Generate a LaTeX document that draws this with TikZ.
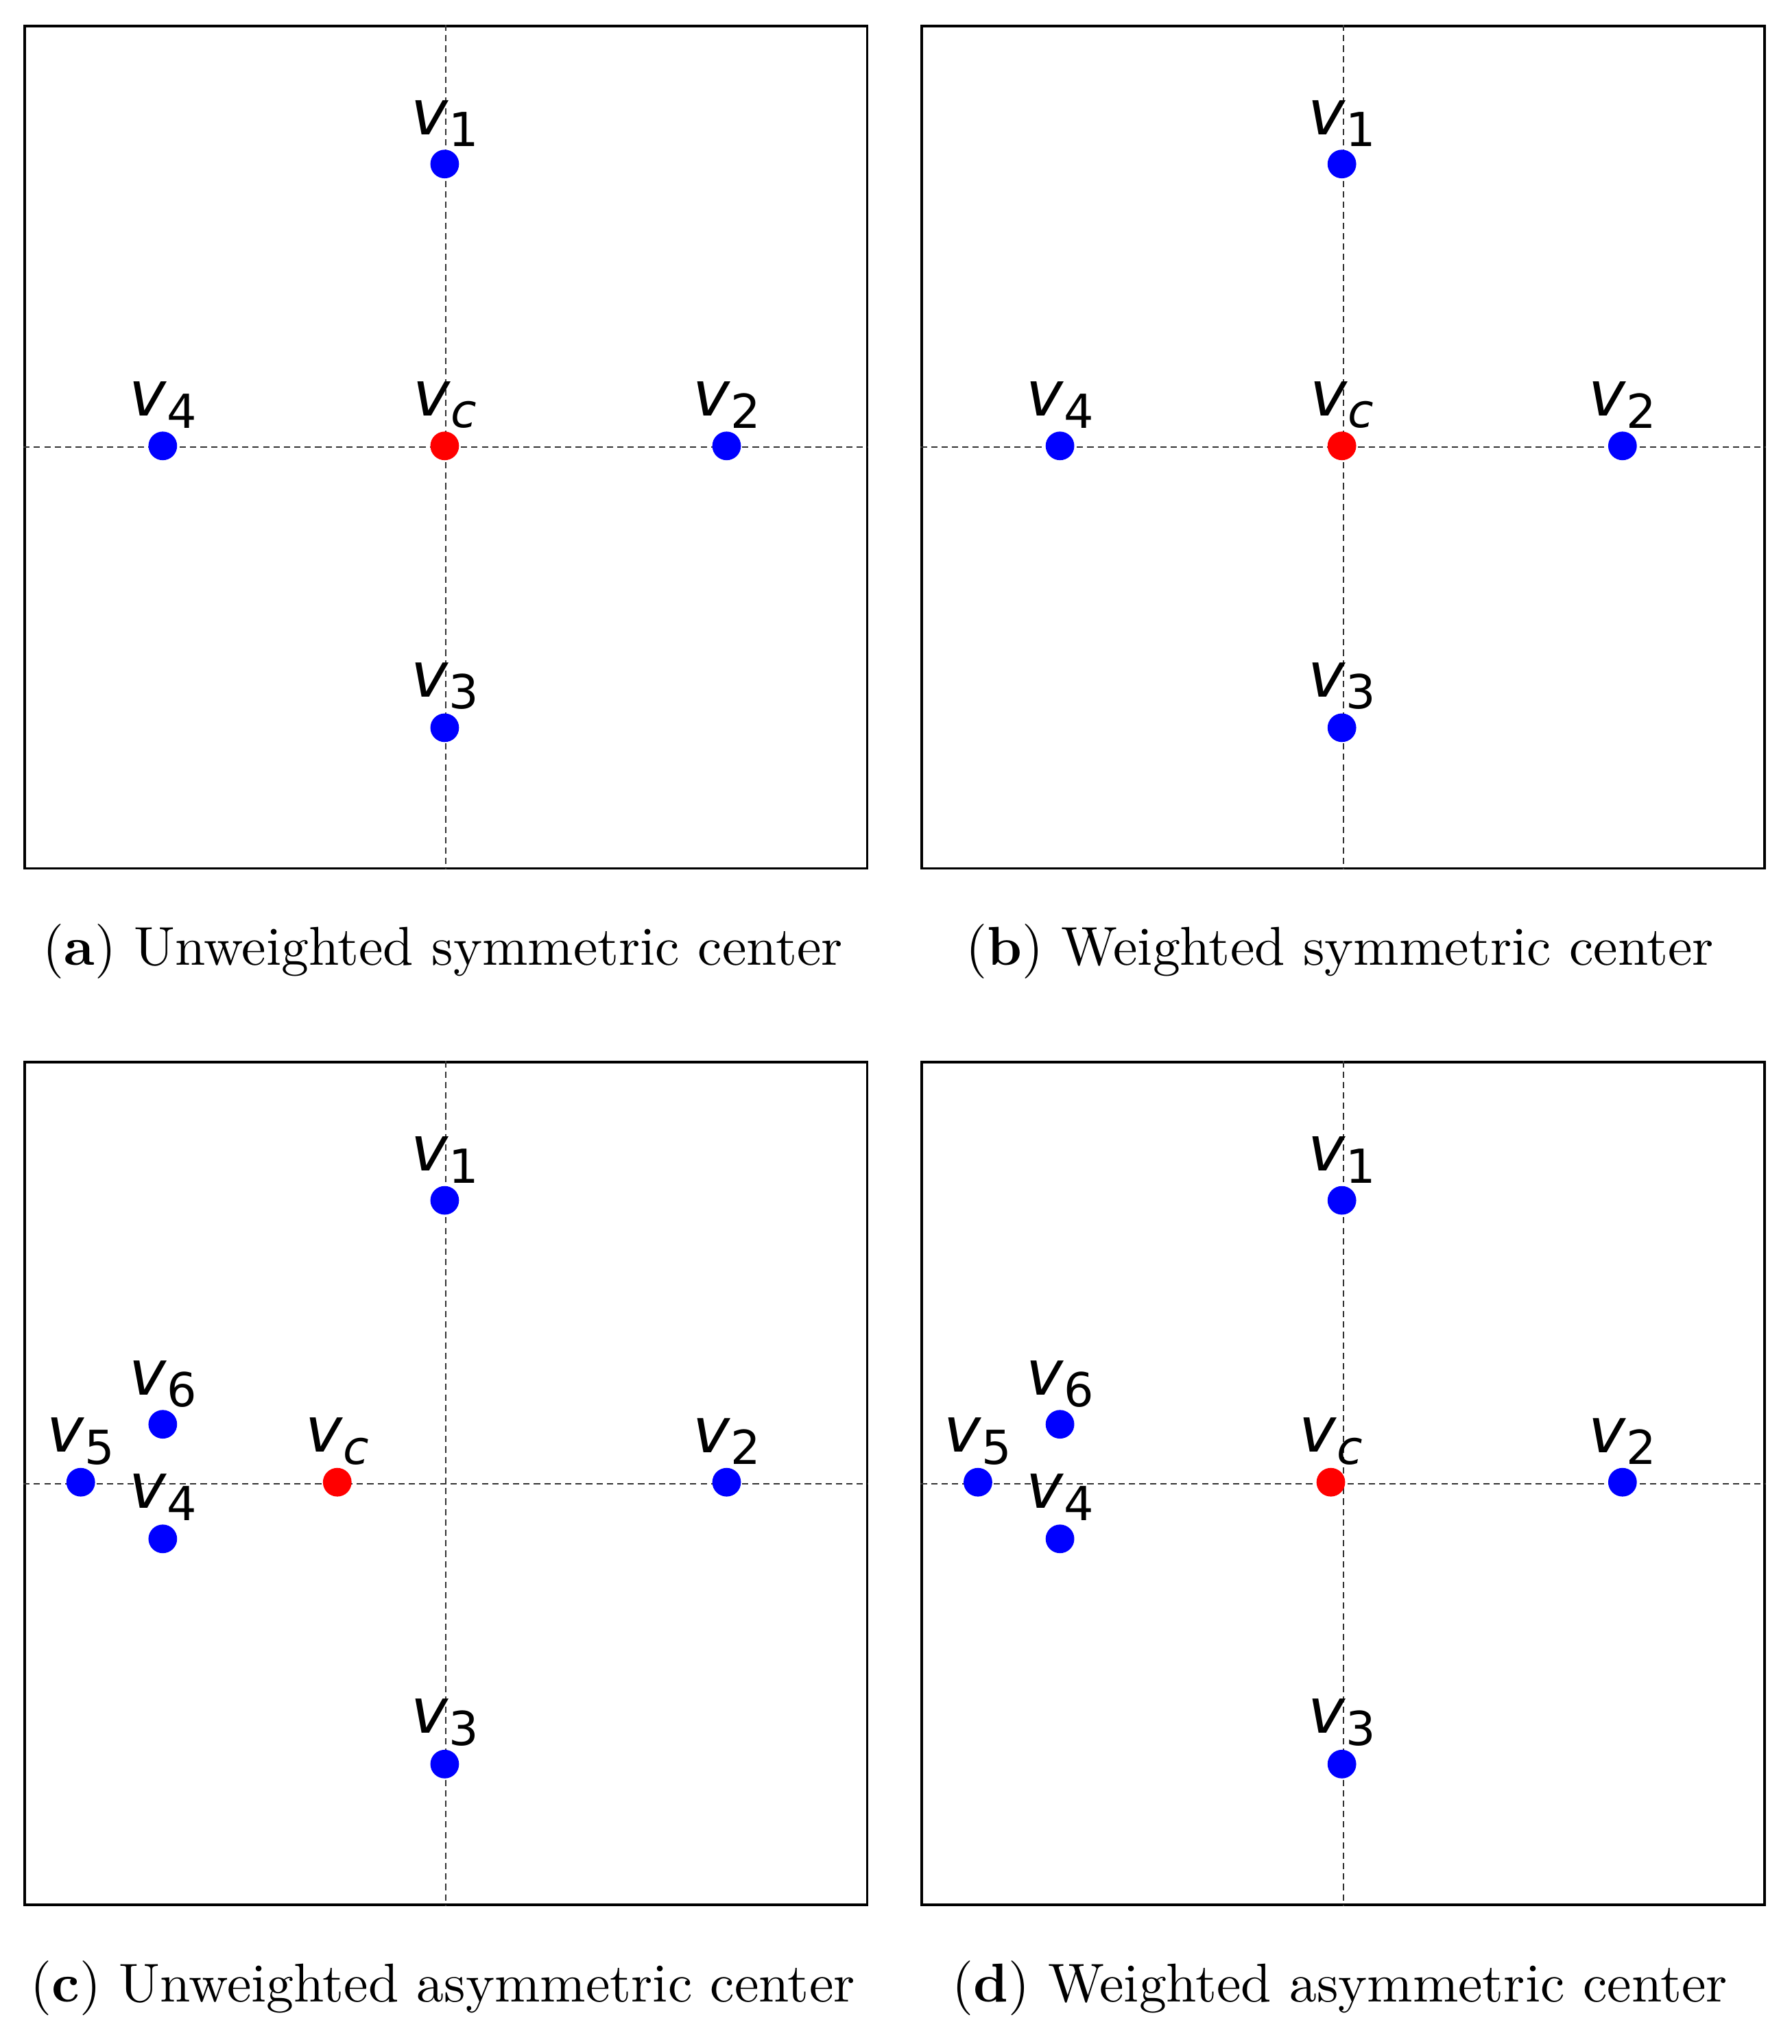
\documentclass[tikz,border=0pt]{standalone}
\usepackage{fontspec}
\newfontfamily\dv{DejaVu Sans}
\newcommand{\lb}[2]{{\dv\fontsize{12}{12}\selectfont\textit{v}\raisebox{-0.35ex}{\fontsize{9}{9}\selectfont #2}}}
\newcommand{\lbc}{{\dv\fontsize{12}{12}\selectfont\textit{v}\raisebox{-0.35ex}{\fontsize{9}{9}\selectfont\textit{c}}}}
\begin{document}
\begin{tikzpicture}[x=0.25pt,y=-0.25pt,
  box/.style={draw=black,line width=0.5pt},
  ax/.style={draw=black!80,line width=0.25pt,dash pattern=on 1.2pt off 0.8pt},
  bd/.style={circle,fill=blue,inner sep=0pt,minimum size=5.5pt},
  rd/.style={circle,fill=red,inner sep=0pt,minimum size=5.5pt},
  lab/.style={inner sep=0pt,anchor=center},
  captxt/.style={font=\fontsize{10.5}{12}\selectfont}]
\useasboundingbox (0,0) rectangle (1376,1570);
\foreach \px/\py/\nm in {18/19/a,707/19/b,18/815/c,707/815/d}{
  \node[box,minimum width=161.75pt,minimum height=161.75pt,anchor=north west,inner sep=0pt] (box\nm) at (\px,\py) {};
  \draw[ax] (box\nm.north) -- (box\nm.south);
  \draw[ax] (box\nm.west) -- (box\nm.east);
}
% panel a
\node[bd] (a1) at (341.5,126) {}; \node[lab] (la1) at (341.5,95) {\lb v1};
\node[bd] (a2) at (558,342.5) {}; \node[lab] (la2) at (558,311) {\lb v2};
\node[bd] (a3) at (341.5,559) {}; \node[lab] (la3) at (341.5,527) {\lb v3};
\node[bd] (a4) at (125,342.5) {}; \node[lab] (la4) at (125,311) {\lb v4};
\node[rd] (ac) at (341.5,342.5) {}; \node[lab] (lac) at (341.5,311) {\lbc};
% panel b
\node[bd] (b1) at (1030.5,126) {}; \node[lab] (lb1) at (1030.5,95) {\lb v1};
\node[bd] (b2) at (1246,342.5) {}; \node[lab] (lb2) at (1246,311) {\lb v2};
\node[bd] (b3) at (1030.5,559) {}; \node[lab] (lb3) at (1030.5,527) {\lb v3};
\node[bd] (b4) at (814,342.5) {}; \node[lab] (lb4) at (814,311) {\lb v4};
\node[rd] (bc) at (1030.5,342.5) {}; \node[lab] (lbc) at (1030.5,311) {\lbc};
% panel c
\node[bd] (c1) at (341.5,922) {}; \node[lab] (lc1) at (341.5,891) {\lb v1};
\node[bd] (c2) at (558,1138.5) {}; \node[lab] (lc2) at (558,1107) {\lb v2};
\node[bd] (c3) at (341.5,1355) {}; \node[lab] (lc3) at (341.5,1323) {\lb v3};
\node[bd] (c4) at (125,1182) {}; \node[lab] (lc4) at (125,1150) {\lb v4};
\node[bd] (c5) at (62,1138.5) {}; \node[lab] (lc5) at (62,1107) {\lb v5};
\node[bd] (c6) at (125,1094) {}; \node[lab] (lc6) at (125,1063) {\lb v6};
\node[rd] (cc) at (259,1138.5) {}; \node[lab] (lcc) at (259,1107) {\lbc};
% panel d
\node[bd] (d1) at (1030.5,922) {}; \node[lab] (ld1) at (1030.5,891) {\lb v1};
\node[bd] (d2) at (1246,1138.5) {}; \node[lab] (ld2) at (1246,1107) {\lb v2};
\node[bd] (d3) at (1030.5,1355) {}; \node[lab] (ld3) at (1030.5,1323) {\lb v3};
\node[bd] (d4) at (814,1182) {}; \node[lab] (ld4) at (814,1150) {\lb v4};
\node[bd] (d5) at (751,1138.5) {}; \node[lab] (ld5) at (751,1107) {\lb v5};
\node[bd] (d6) at (814,1094) {}; \node[lab] (ld6) at (814,1063) {\lb v6};
\node[rd] (dc) at (1022,1138.5) {}; \node[lab] (ldc) at (1022,1107) {\lbc};
% captions
\node[captxt] (capa) at (340,731) {(\textbf{a}) Unweighted symmetric center};
\node[captxt] (capb) at (1029,731) {(\textbf{b}) Weighted symmetric center};
\node[captxt] (capc) at (340,1527) {(\textbf{c}) Unweighted asymmetric center};
\node[captxt] (capd) at (1029,1527) {(\textbf{d}) Weighted asymmetric center};
\end{tikzpicture}
\end{document}
